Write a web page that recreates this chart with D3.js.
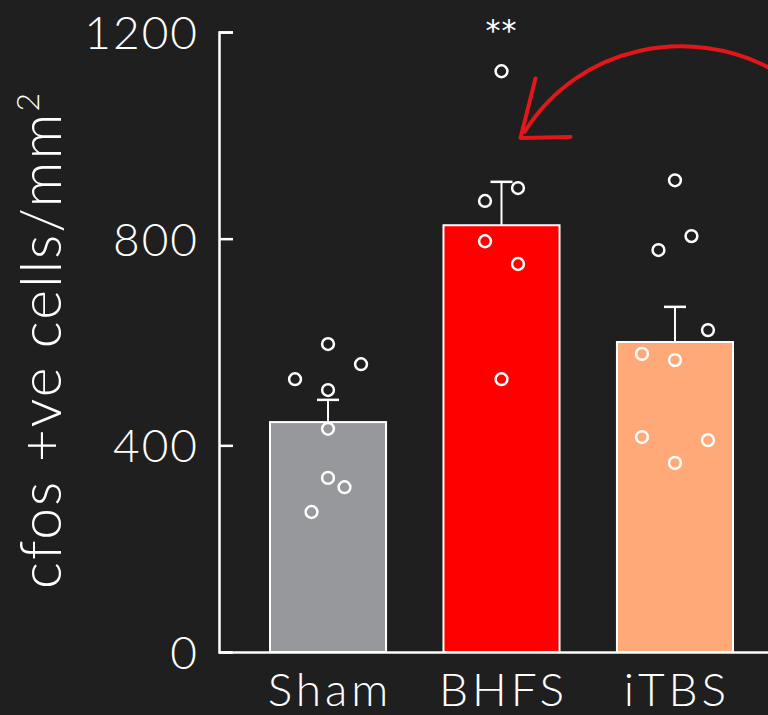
<!DOCTYPE html>
<html><head><meta charset="utf-8">
<script src="https://cdn.jsdelivr.net/npm/d3@7"></script>
<style>
html,body{margin:0;padding:0;background:#1f1f1f;}
svg{display:block;}
text{font-family:Lato,"Open Sans",sans-serif;font-weight:300;fill:#ffffff;}
text.star{font-family:"DejaVu Sans",sans-serif;font-weight:400;}
</style></head>
<body>
<script>
const categories = ["Sham", "BHFS", "iTBS"];
const means = [445, 826, 600];
const sems = [43, 84, 68];
const barColors = ["#97989c", "#ff0000", "#ffa878"];
const shamPoints = [596, 557, 528, 507, 432, 337, 319, 271];
const shamSlots  = [0, 2, -2, 0, 0, 0, 1, -1];
const bhfsPoints = [1124, 898, 873, 795, 751, 528];
const bhfsSlots  = [0, 1, -1, -1, 1, 0];
const itbsPoints = [913, 805, 778, 623, 577, 565, 416, 410, 366];
const itbsSlots  = [0, 1, -1, 2, -2, 0, -2, 2, 0];
const yTicks = [0, 400, 800, 1200];
const yLabel = "cfos +ve cells/mm";
const signif = "**";

const W = 768, H = 715;
const svg = d3.select("body").append("svg").attr("width", W).attr("height", H);
svg.append("rect").attr("width", W).attr("height", H).attr("fill", "#1f1f1f");

const x0 = 219, yBase = 652, yTop = 32;
const x = d3.scaleBand().domain(categories).range([x0, 784]).paddingInner(0.331).paddingOuter(0.294);
const y = d3.scaleLinear().domain([0, 1200]).range([yBase, yTop]);
const slotW = 16.5;

// bars
const groups = categories.map((c, i) => ({c, mean: means[i], sem: sems[i], color: barColors[i]}));
svg.selectAll("rect.bar").data(groups).enter().append("rect")
  .attr("class", "bar")
  .attr("x", d => x(d.c)).attr("width", x.bandwidth())
  .attr("y", d => y(d.mean)).attr("height", d => y(0) - y(d.mean))
  .attr("fill", d => d.color).attr("stroke", "#ffffff").attr("stroke-width", 2);

// error bars (upper only)
const capW = 22;
groups.forEach(d => {
  const cx = x(d.c) + x.bandwidth() / 2;
  svg.append("line").attr("x1", cx).attr("x2", cx).attr("y1", y(d.mean)).attr("y2", y(d.mean + d.sem))
    .attr("stroke", "#fff").attr("stroke-width", 2);
  svg.append("line").attr("x1", cx - capW / 2).attr("x2", cx + capW / 2).attr("y1", y(d.mean + d.sem)).attr("y2", y(d.mean + d.sem))
    .attr("stroke", "#fff").attr("stroke-width", 2.5);
});

// points
const pts = [];
[[shamPoints, shamSlots], [bhfsPoints, bhfsSlots], [itbsPoints, itbsSlots]].forEach((pair, i) => {
  pair[0].forEach((v, j) => pts.push({c: categories[i], v, s: pair[1][j]}));
});
svg.selectAll("circle.pt").data(pts).enter().append("circle")
  .attr("class", "pt")
  .attr("cx", d => x(d.c) + x.bandwidth() / 2 + d.s * slotW)
  .attr("cy", d => y(d.v)).attr("r", 5.9)
  .attr("fill", "none").attr("stroke", "#ffffff").attr("stroke-width", 2.5);

// y axis
const yAxis = d3.axisLeft(y).tickValues(yTicks).tickSizeInner(-14).tickSizeOuter(-14).tickPadding(22).tickFormat(d3.format("d"));
const ga = svg.append("g").attr("transform", `translate(${x0},0)`).call(yAxis);
ga.select(".domain").attr("stroke", "#fff").attr("stroke-width", 2.5);
ga.selectAll(".tick line").attr("stroke", "#fff").attr("stroke-width", 2.5);
ga.selectAll(".tick text").attr("font-size", 46)
  .attr("fill", "#fff").attr("dy", "0.36em").attr("letter-spacing", 2).attr("dx", 2);

// x axis baseline
const xAxis = d3.axisBottom(x).tickSize(0).tickPadding(0);
const gx = svg.append("g").attr("transform", `translate(0,${yBase})`).call(xAxis);
gx.select(".domain").attr("stroke", "#fff").attr("stroke-width", 2.5);
gx.selectAll(".tick text").attr("font-size", 46)
  .attr("fill", "#fff").attr("y", 54).attr("dy", 0).attr("letter-spacing", 4).attr("dx", 2);

// y label
const yl = svg.append("text").attr("transform", `translate(61,340) rotate(-90)`).attr("text-anchor", "middle")
  .attr("font-size", 57).attr("letter-spacing", 2);
yl.append("tspan").text(yLabel);
yl.append("tspan").attr("font-size", 32).attr("dy", -22).text("2");

// significance
svg.append("text").attr("class", "star").attr("x", x("BHFS") + x.bandwidth() / 2).attr("y", y(1200) + 9)
  .attr("text-anchor", "middle").attr("font-size", 30).attr("letter-spacing", 1).text(signif);

// red hand-drawn arrow annotation anchored to BHFS
const bx = x("BHFS") + x.bandwidth() / 2;
const tip = [bx + 19, y(995)];
const arrowPath = d3.path();
arrowPath.moveTo(W + 2, y(1130));
arrowPath.bezierCurveTo(bx + 190, y(1210), bx + 80, y(1180), tip[0] + 4, tip[1] - 6);
svg.append("path").attr("d", arrowPath.toString()).attr("fill", "none").attr("stroke", "#e3161b").attr("stroke-width", 4).attr("stroke-linecap", "round");
svg.append("path").attr("d", d3.line()([[bx + 34, y(1110)], [tip[0], tip[1]], [bx + 69, y(997)]]))
  .attr("fill", "none").attr("stroke", "#e3161b").attr("stroke-width", 4).attr("stroke-linejoin", "round").attr("stroke-linecap", "round");
</script>
</body></html>
